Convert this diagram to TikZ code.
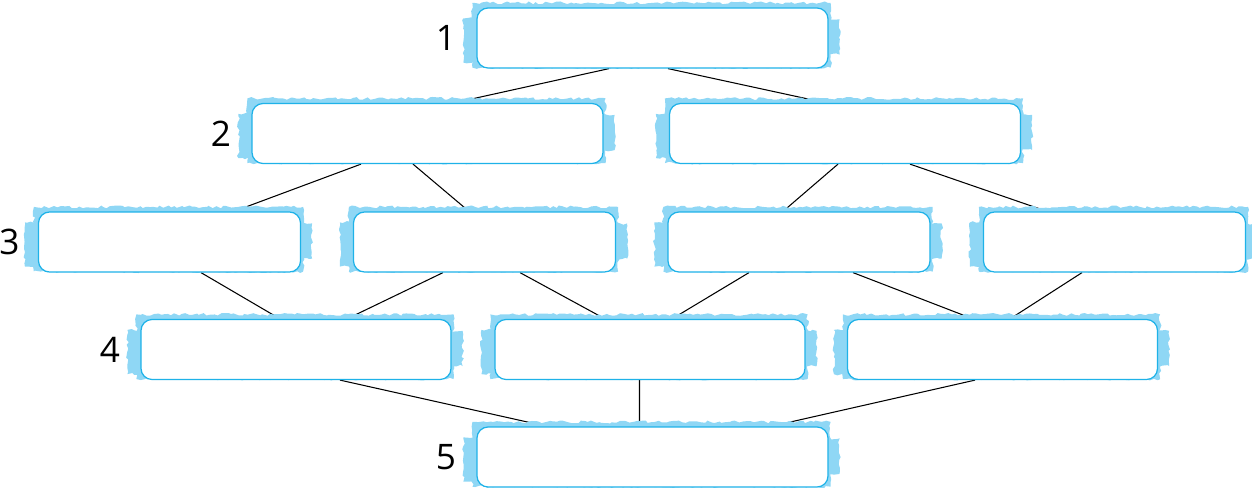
\documentclass[tikz,border=0pt]{standalone}
\usepackage{fontspec}
\setmainfont{Open Sans}
\usetikzlibrary{calc, decorations.pathmorphing}

\definecolor{slotline}{RGB}{30,178,232}
\definecolor{brushblue}{RGB}{143,215,245}

\pgfdeclarelayer{wires}
\pgfdeclarelayer{brush}
\pgfsetlayers{wires,brush,main}

\begin{document}
\begin{tikzpicture}[
  slot/.style  = {draw=slotline, fill=white, rounded corners=2.2mm,
                  line width=0.7pt, minimum height=12mm, inner sep=0pt},
  wide/.style  = {slot, minimum width=70.2mm},
  mid/.style   = {slot, minimum width=62mm},
  short/.style = {slot, minimum width=52.4mm},
  wire/.style  = {line width=0.6pt, black},
  lvl/.style   = {anchor=east, inner sep=0pt, font=\fontsize{20}{24}\selectfont},
  swash/.style = {fill=brushblue, decorate,
                  decoration={random steps, segment length=2pt, amplitude=0.8pt}},
]
\pgfmathsetseed{7}
\useasboundingbox (0,0) rectangle (25.04,-9.76);

% --- boxes ---------------------------------------------------------------
\node[wide]  (n1)  at (13.05,-0.76) {};
\node[wide]  (n2a) at (8.55,-2.67)  {};
\node[wide]  (n2b) at (16.90,-2.67) {};
\node[short] (n3a) at (3.39,-4.84)  {};
\node[short] (n3b) at (9.69,-4.84)  {};
\node[short] (n3c) at (15.98,-4.84) {};
\node[short] (n3d) at (22.29,-4.84) {};
\node[mid]   (n4a) at (5.92,-6.99)  {};
\node[mid]   (n4b) at (13.00,-6.99) {};
\node[mid]   (n4c) at (20.05,-6.99) {};
\node[wide]  (n5)  at (13.05,-9.14) {};

% --- level numbers -------------------------------------------------------
\node[lvl] (l1) at ([xshift=-0.40cm]n1.west)  {1};
\node[lvl] (l2) at ([xshift=-0.40cm]n2a.west) {2};
\node[lvl] (l3) at ([xshift=-0.36cm]n3a.west) {3};
\node[lvl] (l4) at ([xshift=-0.40cm]n4a.west) {4};
\node[lvl] (l5) at ([xshift=-0.40cm]n5.west)  {5};

% --- brush strokes behind the boxes --------------------------------------
\begin{pgfonlayer}{brush}
\foreach \n in {n1,n2a,n2b,n3a,n3b,n3c,n3d,n4a,n4b,n4c,n5}{
  \fill[swash] ($(\n.south west)+(-0.08,0.02)$) rectangle ($(\n.north east)+(0.04,0.09)$);
  \fill[swash] ($(\n.south west)+(-0.26,0.12)$) rectangle ($(\n.north west)+(0.1,-0.22)$);
  \fill[swash] ($(\n.south east)+(0.22,0.28)$) rectangle ($(\n.north east)+(-0.1,-0.24)$);
}
\end{pgfonlayer}

% --- connectors ----------------------------------------------------------
\begin{pgfonlayer}{wires}
\foreach \a/\sa/\b/\sb in {n1/-0.87/n2a/0.53, n1/0.31/n2b/-0.38,
    n2a/-1.33/n3a/1.29, n2a/-0.29/n3b/-0.31,
    n2b/-0.14/n3c/-0.32, n2b/1.30/n3d/-1.35,
    n3a/0.63/n4a/-0.32, n3b/-0.83/n4a/1.02, n3b/0.71/n4b/-0.90,
    n3c/-1.00/n4b/0.44, n3c/1.08/n4c/-0.59, n3d/-0.65/n4c/0.15,
    n4a/0.88/n5/-2.11, n4b/-0.21/n5/-0.26, n4c/-0.55/n5/2.37}
  \draw[wire] ([xshift=\sa cm]\a.south) -- ([xshift=\sb cm]\b.north);
\end{pgfonlayer}

\end{tikzpicture}
\end{document}
